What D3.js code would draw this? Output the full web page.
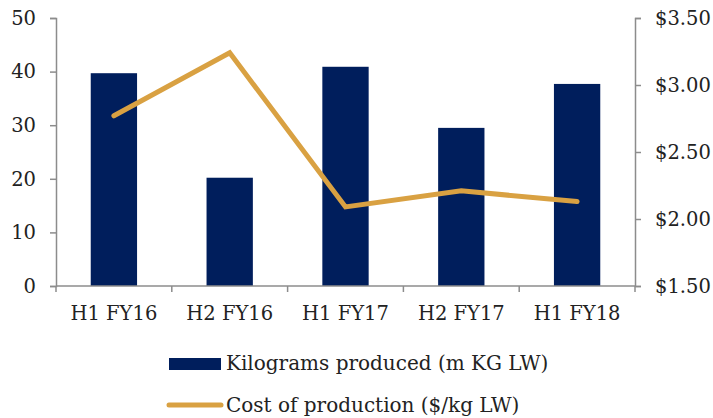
<!DOCTYPE html>
<html>
<head>
<meta charset="utf-8">
<script src="https://cdn.jsdelivr.net/npm/d3@7/dist/d3.min.js"></script>
<style>
  html, body { margin: 0; padding: 0; background: #fff; }
  svg text { font-family: "DejaVu Serif", serif; fill: #222; }
</style>
</head>
<body>
<svg id="chart" width="713" height="418"></svg>
<script>
// Half-year periods
const categories = ["H1 FY16", "H2 FY16", "H1 FY17", "H2 FY17", "H1 FY18"];
// Kilograms produced (m KG LW)
const kgProduced = [39.7, 20.2, 40.9, 29.5, 37.7];
// Cost of production ($/kg LW)
const costPerKg = [2.77, 3.24, 2.09, 2.21, 2.13];
// Axis ticks
const leftTicks = [0, 10, 20, 30, 40, 50];
const rightTicks = [1.5, 2.0, 2.5, 3.0, 3.5];

const barColor = "#001e5c";
const lineColor = "#d9a142";
const axisColor = "#8c8c8c";

const svg = d3.select("#chart");
const margin = { left: 56, right: 78, top: 18, bottom: 132 };
const W = 713, H = 418;

const x = d3.scaleBand()
  .domain(categories)
  .range([margin.left, W - margin.right])
  .paddingInner(0.6)
  .paddingOuter(0.3);

const yL = d3.scaleLinear().domain([0, 50]).range([H - margin.bottom, margin.top]);
const yR = d3.scaleLinear().domain([1.5, 3.5]).range([H - margin.bottom, margin.top]);

// Bars
svg.append("g").selectAll("rect")
  .data(categories)
  .join("rect")
  .attr("x", d => x(d))
  .attr("width", x.bandwidth())
  .attr("y", (d, i) => yL(kgProduced[i]))
  .attr("height", (d, i) => yL(0) - yL(kgProduced[i]))
  .attr("fill", barColor);

// Axes
const tickFont = "19.5px";
const legendFont = "20px";
function styleAxis(g) {
  g.select(".domain").attr("stroke", axisColor).attr("stroke-width", 1.5);
  g.selectAll(".tick line").attr("stroke", axisColor).attr("stroke-width", 1.5);
  g.selectAll(".tick text").attr("font-size", tickFont).attr("fill", "#222")
    .attr("font-family", "DejaVu Serif, serif");
}

svg.append("g")
  .attr("transform", `translate(${margin.left},0)`)
  .call(d3.axisLeft(yL).tickValues(leftTicks).tickSize(6).tickSizeOuter(6).tickPadding(14))
  .call(styleAxis);

svg.append("g")
  .attr("transform", `translate(${W - margin.right},0)`)
  .call(d3.axisRight(yR).tickValues(rightTicks).tickSize(6).tickSizeOuter(6).tickPadding(14)
    .tickFormat(d => "$" + d3.format(".2f")(d)))
  .call(styleAxis);

// Category axis with boundary ticks between bands
const xg = svg.append("g").attr("transform", `translate(0,${yL(0)})`);
xg.append("line")
  .attr("x1", margin.left).attr("x2", W - margin.right)
  .attr("stroke", axisColor).attr("stroke-width", 1.5);
const bounds = d3.range(categories.length + 1).map(i => margin.left + i * (W - margin.left - margin.right) / categories.length);
xg.selectAll("line.b").data(bounds).join("line")
  .attr("class", "b")
  .attr("x1", d => d).attr("x2", d => d)
  .attr("y1", 0).attr("y2", 6)
  .attr("stroke", axisColor).attr("stroke-width", 1.5);
xg.selectAll("text").data(categories).join("text")
  .attr("x", d => x(d) + x.bandwidth() / 2)
  .attr("y", 34)
  .attr("text-anchor", "middle")
  .attr("font-size", tickFont)
  .text(d => d);

// Cost line
const line = d3.line()
  .x((d, i) => x(categories[i]) + x.bandwidth() / 2)
  .y(d => yR(d));
svg.append("path")
  .datum(costPerKg)
  .attr("d", line)
  .attr("fill", "none")
  .attr("stroke", lineColor)
  .attr("stroke-width", 5)
  .attr("stroke-linecap", "round")
  .attr("stroke-linejoin", "miter");

// Legend
const lg = svg.append("g");
lg.append("rect").attr("x", 169).attr("y", 358).attr("width", 52).attr("height", 12).attr("fill", barColor);
lg.append("text").attr("x", 226).attr("y", 370).attr("font-size", legendFont).text("Kilograms produced (m KG LW)");
lg.append("line").attr("x1", 169).attr("x2", 221).attr("y1", 405).attr("y2", 405)
  .attr("stroke", lineColor).attr("stroke-width", 5).attr("stroke-linecap", "round");
lg.append("text").attr("x", 226).attr("y", 412).attr("font-size", legendFont).text("Cost of production ($/kg LW)");
</script>
</body>
</html>
